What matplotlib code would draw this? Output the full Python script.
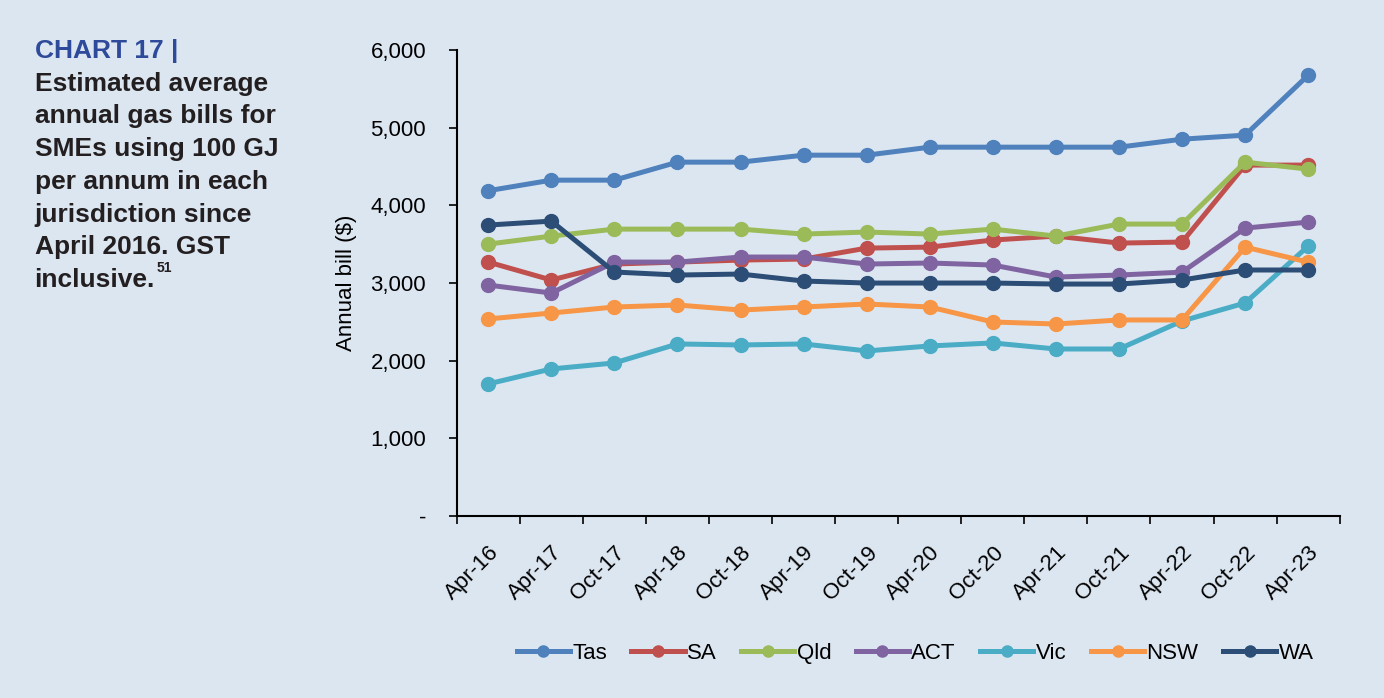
import matplotlib.pyplot as plt

plt.rcParams['font.family'] = ['Liberation Sans', 'DejaVu Sans']

periods = ['Apr-16', 'Apr-17', 'Oct-17', 'Apr-18', 'Oct-18', 'Apr-19', 'Oct-19',
           'Apr-20', 'Oct-20', 'Apr-21', 'Oct-21', 'Apr-22', 'Oct-22', 'Apr-23']

tas = [4190, 4326, 4326, 4558, 4558, 4648, 4648, 4751, 4751, 4751, 4751, 4854, 4906, 5678]
sa = [3270, 3039, 3245, 3270, 3296, 3309, 3450, 3463, 3554, 3605, 3515, 3528, 4520, 4520]
qld = [3502, 3605, 3695, 3695, 3695, 3631, 3657, 3631, 3695, 3605, 3760, 3760, 4558, 4468]
act = [2974, 2871, 3270, 3270, 3335, 3335, 3245, 3258, 3232, 3077, 3103, 3140, 3708, 3785]
vic = [1700, 1893, 1970, 2215, 2202, 2215, 2125, 2189, 2228, 2150, 2150, 2511, 2743, 3476]
nsw = [2537, 2614, 2691, 2717, 2652, 2691, 2730, 2691, 2498, 2472, 2524, 2524, 3463, 3270]
wa = [3747, 3798, 3142, 3103, 3116, 3026, 3000, 3000, 3000, 2987, 2987, 3039, 3168, 3168]

series = [('Tas', tas, '#4F81BD'), ('SA', sa, '#C0504D'), ('Qld', qld, '#9BBB59'),
          ('ACT', act, '#8064A2'), ('Vic', vic, '#4BACC6'), ('NSW', nsw, '#F79646'),
          ('WA', wa, '#2C4D75')]

bg = '#DCE6F1'
fig = plt.figure(figsize=(13.84, 6.98), dpi=100, facecolor=bg)
ax = fig.add_axes([0.330, 0.261, 0.638, 0.667], facecolor=bg)

x = range(len(periods))
for name, vals, col in series:
    ax.plot(x, vals, color=col, lw=3.6, marker='o', ms=10, label=name)

ax.set_xlim(-0.5, len(periods) - 0.5)
ax.set_ylim(0, 6000)
ax.set_yticks(range(0, 6001, 1000))
ax.set_yticklabels(['-'] + ['{:,}'.format(v) for v in range(1000, 6001, 1000)], fontsize=16)
ax.set_xticks(x)
ax.set_xticklabels(periods, rotation=45, ha='right', rotation_mode='anchor', fontsize=16)
ax.set_xticks([i - 0.5 for i in range(len(periods) + 1)], minor=True)
ax.tick_params(axis='x', which='major', length=0, pad=19)
ax.tick_params(axis='x', which='minor', length=6, width=1.2, direction='out')
ax.tick_params(axis='y', length=6, width=1.2, direction='out', pad=16)
for s in ['top', 'right']:
    ax.spines[s].set_visible(False)
for s in ['left', 'bottom']:
    ax.spines[s].set_linewidth(1.5)
ax.set_ylabel('Annual bill ($)', fontsize=16, labelpad=10)

ax.legend(loc='center', bbox_to_anchor=(0.519, -0.295), ncol=7, frameon=False,
          fontsize=16, handlelength=2.4, handletextpad=0.1, columnspacing=1.1,
          markerscale=0.8)

y0 = 1 - 58 / 698
step = 32.7 / 698
fig.text(0.025, y0, 'CHART 17 |', color='#2E4A9A', fontsize=19, fontweight='bold', va='baseline')
lines = ['Estimated average', 'annual gas bills for', 'SMEs using 100 GJ',
         'per annum in each', 'jurisdiction since', 'April 2016. GST']
for i, t in enumerate(lines):
    fig.text(0.025, y0 - (i + 1) * step, t, color='#231F20', fontsize=19,
             fontweight='bold', va='baseline')
last = fig.text(0.025, y0 - 7 * step, 'inclusive.', color='#231F20', fontsize=19,
                fontweight='bold', va='baseline')
ax.annotate('51', xy=(1, 0.72), xycoords=last, fontsize=10, fontweight='bold',
            color='#231F20', va='bottom', ha='left', xytext=(1, 0), textcoords='offset points')

fig.savefig('out.png', dpi=100, facecolor=bg)
